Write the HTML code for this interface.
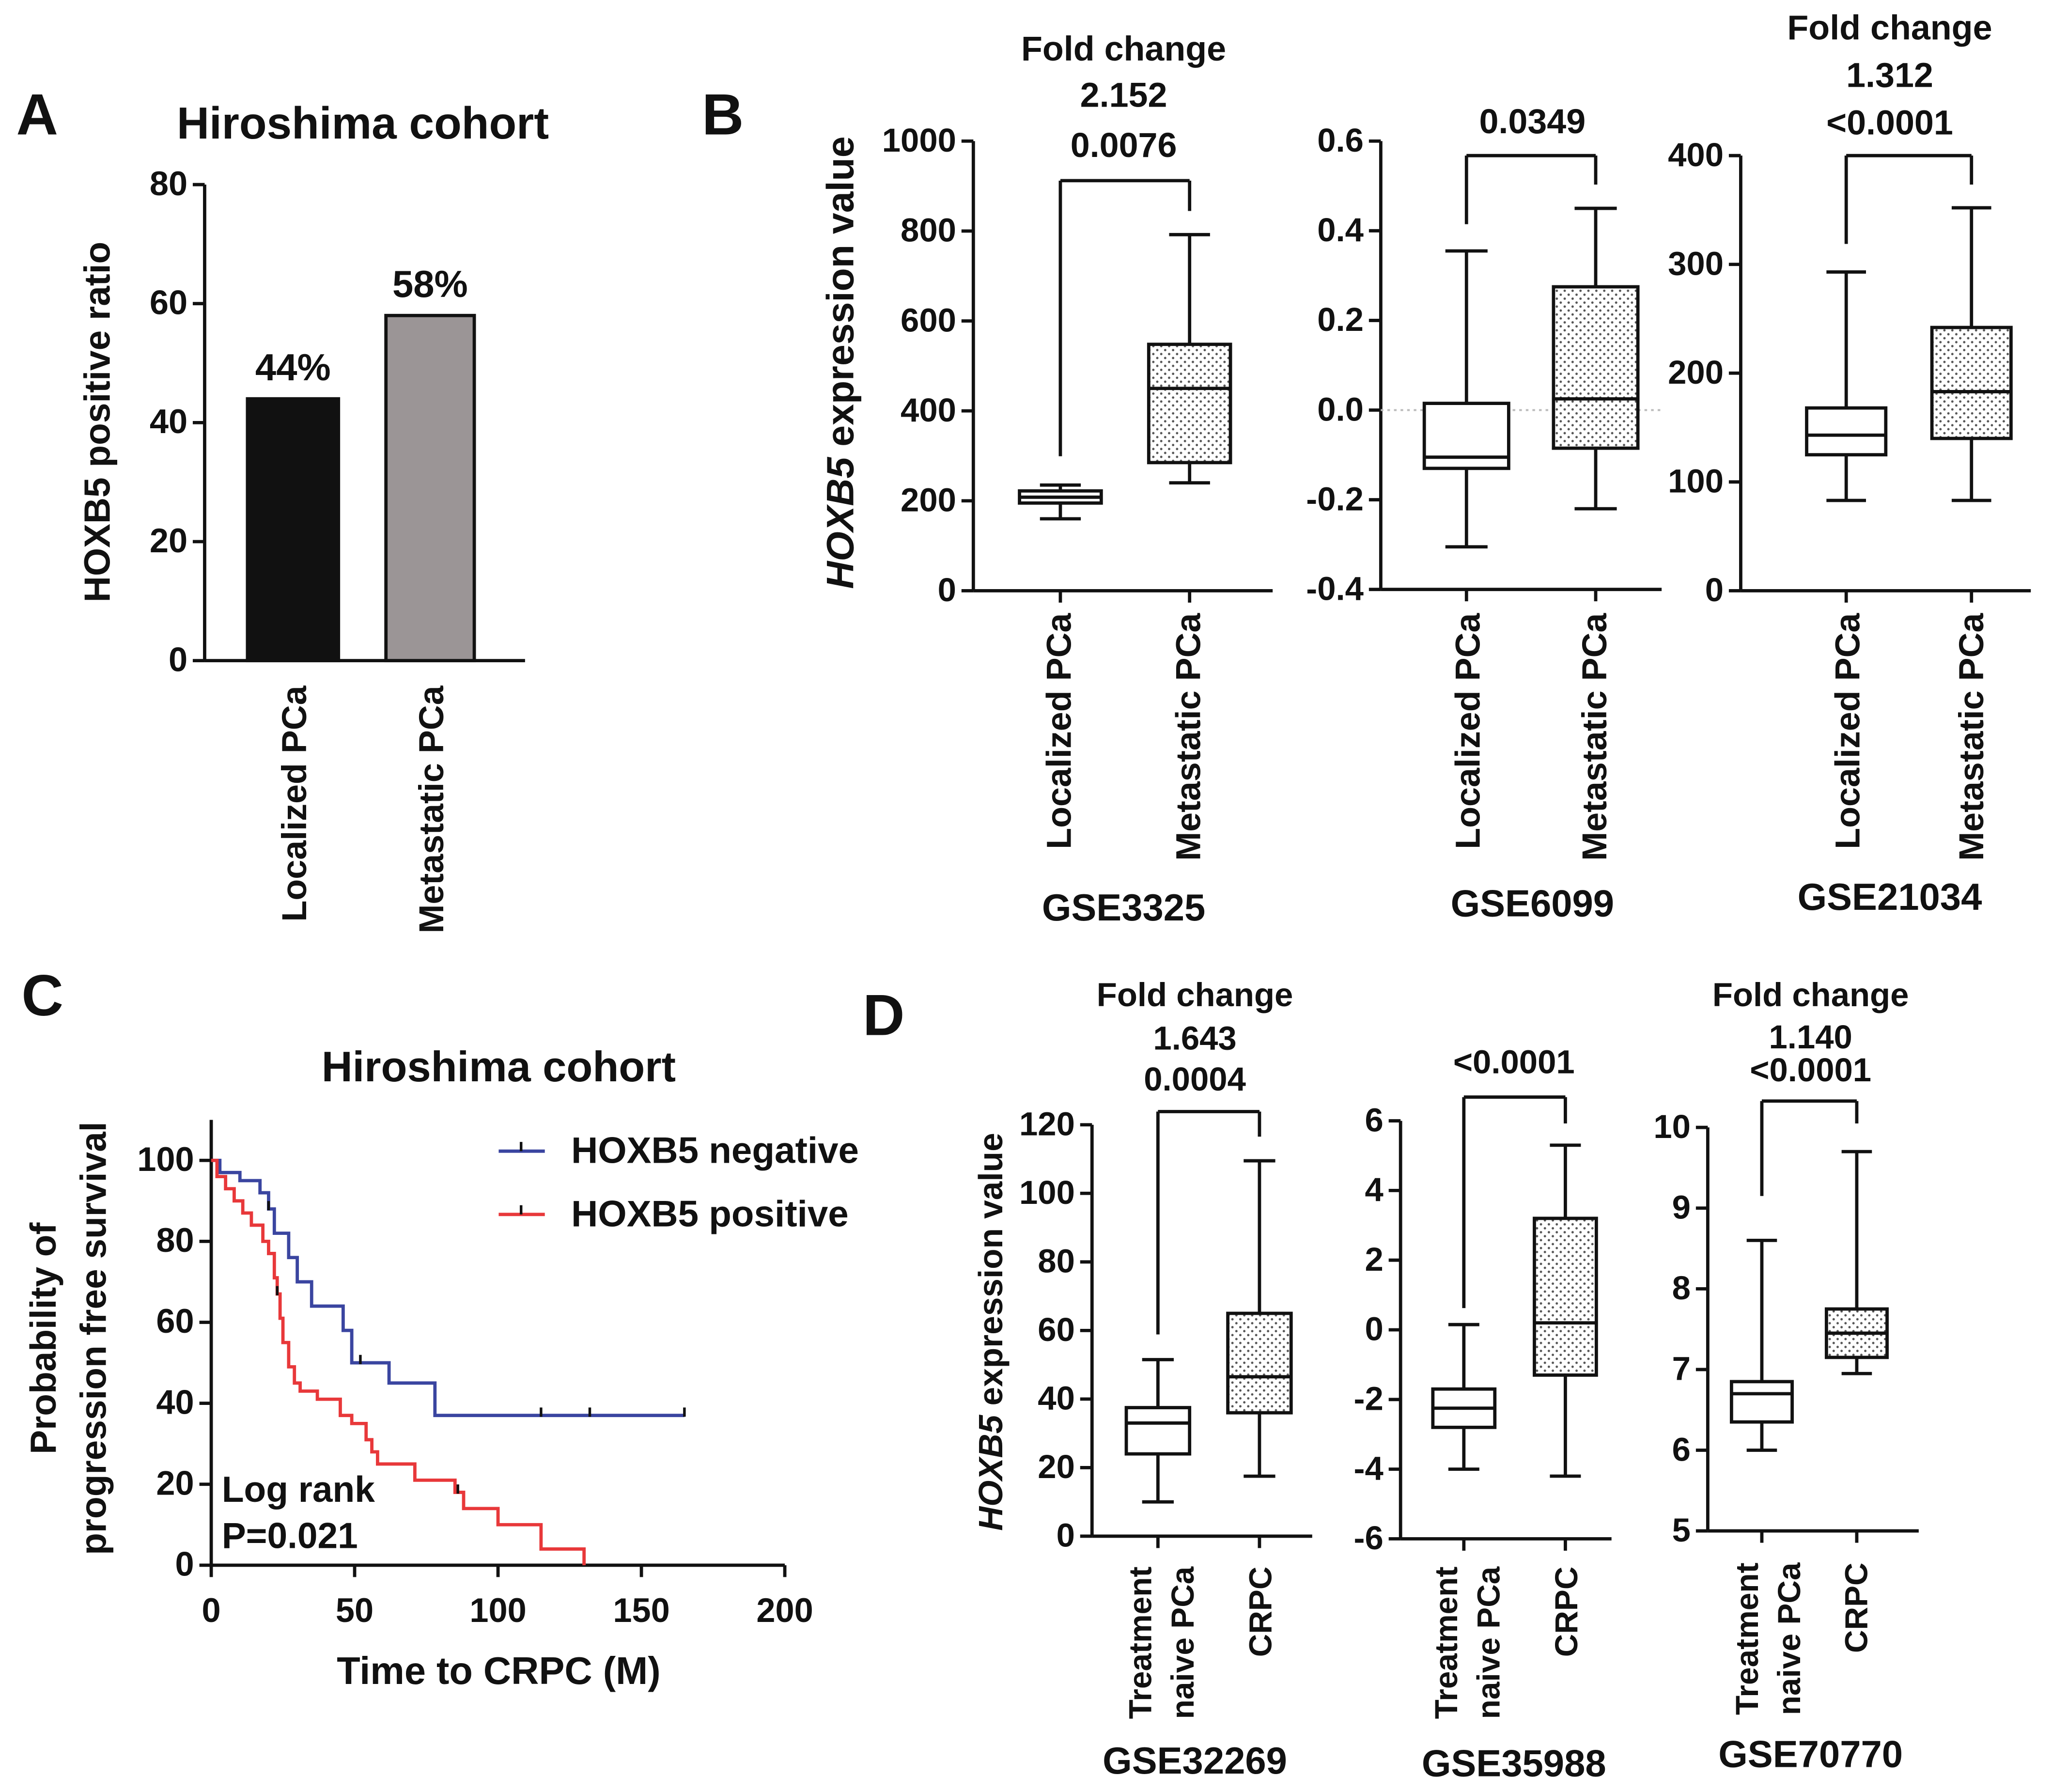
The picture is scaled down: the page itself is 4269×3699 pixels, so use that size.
<!DOCTYPE html>
<html><head><meta charset="utf-8"><style>
html,body{margin:0;padding:0;background:#fff}
svg{display:block}
text{font-family:"Liberation Sans",Arial,sans-serif;font-weight:bold;fill:#111}
</style></head><body>
<svg id="fig" width="4269" height="3699" viewBox="0 0 1568 1359" xmlns="http://www.w3.org/2000/svg">
<defs><pattern id="dots" width="6" height="6" patternUnits="userSpaceOnUse"><rect width="6" height="6" fill="#fff"/><circle cx="1.5" cy="1.5" r="0.9" fill="#555"/><circle cx="4.5" cy="4.5" r="0.9" fill="#555"/></pattern></defs>
</svg>
<script>
// ---- Panel A data ----
const aCats = ["Localized PCa","Metastatic PCa"];
const aVals = [44, 58];
const aLabels = ["44%","58%"];
const aTicks = [0,20,40,60,80];
// ---- Panel B data (min,q1,median,q3,max) ----
const b1Loc = [160,195,208,222,235];
const b1Met = [240,285,450,548,792];
const b1Ticks = [0,200,400,600,800,1000];
const b2Loc = [-0.305,-0.13,-0.105,0.015,0.355];
const b2Met = [-0.22,-0.085,0.025,0.275,0.45];
const b2Ticks = [-0.4,-0.2,0.0,0.2,0.4,0.6];
const b3Loc = [83,125,143,168,293];
const b3Met = [83,140,183,242,352];
const b3Ticks = [0,100,200,300,400];
// ---- Panel C data (time, survival %) ----
const negTimes = [0,3,10,17,20,22,27,30,35,46,49,62,78,165];
const negSurv  = [100,97,95,92,88,82,76,70,64,58,50,45,37,37];
const negCensor = [20,52,115,132,165];
const posTimes = [0,2,5,8,11,14,18,20,22,23,24,25,27,29,31,37,45,49,54,56,58,71,85,88,100,115,130];
const posSurv  = [100,96,93,90,87,84,80,77,71,67,61,55,49,45,43,41,37,35,31,28,25,21,18,14,10,4,0];
const posCensor = [23,86];
const cXTicks = [0,50,100,150,200];
const cYTicks = [0,20,40,60,80,100];
// ---- Panel D data ----
const d1Tr = [10,24,33,37.5,51.5];
const d1Cr = [17.5,36,46.5,65,109.5];
const d1Ticks = [0,20,40,60,80,100,120];
const d2Tr = [-4,-2.8,-2.25,-1.7,0.15];
const d2Cr = [-4.2,-1.3,0.2,3.2,5.3];
const d2Ticks = [-6,-4,-2,0,2,4,6];
const d3Tr = [6.0,6.35,6.7,6.85,8.6];
const d3Cr = [6.95,7.15,7.45,7.75,9.7];
const d3Ticks = [5,6,7,8,9,10];

const svg=document.getElementById('fig');
const NS="http://www.w3.org/2000/svg";
const F=1.1;
function el(tag,attrs,parent){const e=document.createElementNS(NS,tag);for(const k in attrs)e.setAttribute(k,attrs[k]);(parent||svg).appendChild(e);return e;}
function txt(x,y,s,size,anchor,name,rot,parent){const t=el('text',{x:x,y:y,'font-size':size*F,'text-anchor':anchor||'middle'},parent);if(rot)t.setAttribute('transform','rotate(-90 '+x+' '+y+')');t.textContent=s;


return t;}
function line(x1,y1,x2,y2,name,stroke,w,parent){const l=el('line',{x1,y1,x2,y2,stroke:stroke||'#111','stroke-width':w||2.5},parent);


return l;}
function scale(d0,d1,r0,r1){return v=>r0+(v-d0)*(r1-r0)/(d1-d0);}
function fmt(v,dec){return v.toFixed(dec);}
function yAxis(x,y,ticks,dec,size){
  line(x,y(ticks[ticks.length-1]),x,y(ticks[0]),'y-axis');
  ticks.forEach(t=>{line(x-9,y(t),x,y(t),'y-tick');txt(x-13,y(t)+8,fmt(t,dec),size,'end','y-tick-label');});
}
function box(cx,w,y,d,dotted,name){
  const g=el('g',{});
  
  
  line(cx,y(d[0]),cx,y(d[1]),'whisker-low','#111',2.5,g);
  line(cx,y(d[3]),cx,y(d[4]),'whisker-high','#111',2.5,g);
  line(cx-w/4,y(d[0]),cx+w/4,y(d[0]),'cap-low','#111',2.5,g);
  line(cx-w/4,y(d[4]),cx+w/4,y(d[4]),'cap-high','#111',2.5,g);
  const r=el('rect',{x:cx-w/2,y:y(d[3]),width:w,height:y(d[1])-y(d[3]),fill:dotted?'url(#dots)':'#fff',stroke:'#111','stroke-width':2.5},g);
  
  
  line(cx-w/2,y(d[2]),cx+w/2,y(d[2]),'median','#111',2.5,g);
}
function bracket(x1,x2,yt,yb1,yb2){line(x1,yb1,x1,yt,'bracket');line(x1,yt,x2,yt,'bracket');line(x2,yt,x2,yb2,'bracket');}

// Panel labels
txt(28,102,'A',40,'middle','panel-label-a');
txt(548,102,'B',40,'middle','panel-label-b');
txt(32,770,'C',40,'middle','panel-label-c');
txt(670,785,'D',40,'middle','panel-label-d');

// ---- Panel A ----
{const y=scale(0,80,501,140);
txt(275,105,'Hiroshima cohort',31,'middle','chart-title-a');
yAxis(155,y,aTicks,0,23.5);
line(155,501,398,501,'x-axis');
const cx=[222,326],w=[69,67];
aVals.forEach((v,i)=>{const r=el('rect',{x:cx[i]-w[i]/2,y:y(v),width:w[i],height:501-y(v),fill:i?'#9b9596':'#111',stroke:'#111','stroke-width':2.5});


txt(cx[i],y(v)-14,aLabels[i],26,'middle','bar-value-label');
txt(cx[i]+10,520,aCats[i],24,'end','x-category-label',true);});
txt(83,320,'HOXB5 positive ratio',25,'middle','y-axis-title',true);}

function boxPlot(o){
  const y=scale(o.ticks[0],o.ticks[o.ticks.length-1],o.y0,o.y1);
  yAxis(o.ax,y,o.ticks,o.dec,o.fs||23);
  line(o.ax,o.y0,o.axEnd,o.y0,'x-axis');
  if(o.zero){const z=el('line',{x1:o.ax,y1:y(0),x2:o.axEnd,y2:y(0),stroke:'#bbb','stroke-width':1.5,'stroke-dasharray':'2 3'});}
  o.cxs.forEach(cx=>line(cx,o.y0,cx,o.y0+9,'x-tick'));
  box(o.cxs[0],o.w,y,o.a,false,'box-'+o.names[0]);
  box(o.cxs[1],o.w,y,o.b,true,'box-'+o.names[1]);
  bracket(o.cxs[0],o.cxs[1],o.bt,o.bl,o.br);
  o.texts.forEach((t,i)=>txt(o.tx,o.ty[i],t,o.tfs||24,'middle','annotation-text'));
  o.xl.forEach((lbl,i)=>{lbl.forEach((s,j)=>txt(o.xlx[i][j],o.xly,s,o.xfs||24,'end','x-category-label',true));});
  txt(o.tx,o.gy,o.gse,26,'middle','dataset-label');
}
// ---- Panel B ----
boxPlot({ticks:b1Ticks,dec:0,y0:448,y1:107,ax:738,axEnd:965,cxs:[804,902],w:62,a:b1Loc,b:b1Met,names:['localized','metastatic'],
 bt:137,bl:346,br:160,texts:['Fold change','2.152','0.0076'],tx:852,ty:[46,81,119],
 xl:[['Localized PCa'],['Metastatic PCa']],xlx:[[812],[910]],xly:465,gse:'GSE3325',gy:698});
boxPlot({ticks:b2Ticks,dec:1,y0:447,y1:107,ax:1047,axEnd:1260,cxs:[1112,1210],w:64,a:b2Loc,b:b2Met,names:['localized','metastatic'],zero:true,
 bt:118,bl:170,br:140,texts:['0.0349'],tx:1162,ty:[101],
 xl:[['Localized PCa'],['Metastatic PCa']],xlx:[[1122],[1218]],xly:465,gse:'GSE6099',gy:695});
boxPlot({ticks:b3Ticks,dec:0,y0:448,y1:118,ax:1320,axEnd:1540,cxs:[1400,1495],w:60,a:b3Loc,b:b3Met,names:['localized','metastatic'],
 bt:118,bl:185,br:140,texts:['Fold change','1.312','<0.0001'],tx:1433,ty:[30,66,102],
 xl:[['Localized PCa'],['Metastatic PCa']],xlx:[[1410],[1504]],xly:465,gse:'GSE21034',gy:690});
{const t=el('text',{x:647,y:275,'font-size':29,'text-anchor':'middle',transform:'rotate(-90 647 275)'});


t.innerHTML='<tspan font-style="italic">HOXB5</tspan> expression value';}

// ---- Panel D ----
boxPlot({ticks:d1Ticks,dec:0,y0:1165,y1:853,ax:828,axEnd:995,cxs:[878,955],w:48,a:d1Tr,b:d1Cr,names:['treatment-naive','crpc'],
 bt:843,bl:1012,br:862,texts:['Fold change','1.643','0.0004'],tx:906,ty:[763,796,827],tfs:23,
 xl:[['Treatment','naive PCa'],['CRPC']],xlx:[[873,905],[964]],xly:1188,xfs:22,gse:'GSE32269',gy:1345});
boxPlot({ticks:d2Ticks,dec:0,y0:1167,y1:850,ax:1062,axEnd:1222,cxs:[1110,1187],w:47,a:d2Tr,b:d2Cr,names:['treatment-naive','crpc'],
 bt:832,bl:992,br:852,texts:['<0.0001'],tx:1148,ty:[814],tfs:23,
 xl:[['Treatment','naive PCa'],['CRPC']],xlx:[[1105,1137],[1196]],xly:1188,xfs:22,gse:'GSE35988',gy:1347});
boxPlot({ticks:d3Ticks,dec:0,y0:1161,y1:855,ax:1295,axEnd:1455,cxs:[1336,1408],w:46,a:d3Tr,b:d3Cr,names:['treatment-naive','crpc'],
 bt:835,bl:907,br:852,texts:['Fold change','1.140','<0.0001'],tx:1373,ty:[763,795,820],tfs:23,
 xl:[['Treatment','naive PCa'],['CRPC']],xlx:[[1333,1365],[1416]],xly:1185,xfs:22,gse:'GSE70770',gy:1340});
{const t=el('text',{x:760,y:1010,'font-size':25.5,'text-anchor':'middle',transform:'rotate(-90 760 1010)'});


t.innerHTML='<tspan font-style="italic">HOXB5</tspan> expression value';}

// ---- Panel C ----
{const x=scale(0,200,160,595),y=scale(0,100,1187,880);
txt(378,820,'Hiroshima cohort',29.5,'middle','chart-title-c');
line(160,y(110),160,1187,'y-axis');
cYTicks.forEach(t=>{line(151,y(t),160,y(t),'y-tick');txt(147,y(t)+8,String(t),23.5,'end','y-tick-label');});
line(160,1187,595,1187,'x-axis');
cXTicks.forEach(t=>{line(x(t),1187,x(t),1196,'x-tick');txt(x(t),1230,String(t),23.5,'middle','x-tick-label');});
txt(378,1277,'Time to CRPC (M)',26.5,'middle','x-axis-title');
txt(42,1015,'Probability of',25,'middle','y-axis-title',true);
txt(80,1015,'progression free  survival',25,'middle','y-axis-title',true);
function km(times,surv,censor,color,name){
  let d='M'+x(times[0])+','+y(surv[0]);
  for(let i=1;i<times.length;i++){d+=' H'+x(times[i])+' V'+y(surv[i]);}
  const p=el('path',{d:d,fill:'none',stroke:color,'stroke-width':2.5});
  
  
  censor.forEach(c=>{let s=surv[0];for(let i=0;i<times.length;i++){if(times[i]<=c)s=surv[i];}
    line(x(c),y(s)-6,x(c),y(s)+1,'censor-mark','#111',2);});
}
km(negTimes,negSurv,negCensor,'#3a45a0','km-curve-negative');
km(posTimes,posSurv,posCensor,'#e8383a','km-curve-positive');
line(378,873,413,873,'legend-line-negative','#3a45a0',2.5);line(395,866,395,873,'legend-tick','#111',2);
line(378,921,413,921,'legend-line-positive','#e8383a',2.5);line(395,914,395,921,'legend-tick','#111',2);
txt(433,882,'HOXB5 negative',25.5,'start','legend-entry-negative');
txt(433,930,'HOXB5 positive',25.5,'start','legend-entry-positive');
txt(168,1139,'Log rank',25,'start','logrank-label');
txt(168,1174,'P=0.021',25,'start','p-value-label');}
</script>
</body></html>
